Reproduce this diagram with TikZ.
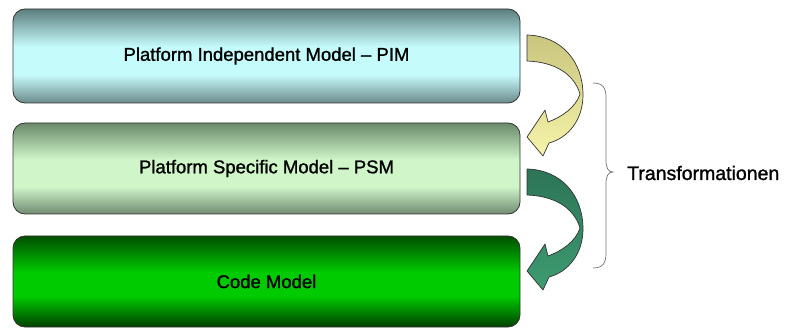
\documentclass[tikz,border=0pt]{standalone}
\usepackage{fontspec}
\setmainfont{Liberation Sans}
\newfontfamily\heavysans[FakeBold=1.2]{Liberation Sans}
\definecolor{bonedark}{HTML}{5C7E7E}
\definecolor{bonelight}{HTML}{C6FBFB}
\definecolor{bonebot}{HTML}{6B8A8A}
\definecolor{btwodark}{HTML}{6A896A}
\definecolor{btwolight}{HTML}{CFF5C9}
\definecolor{btwobot}{HTML}{718A71}
\definecolor{bthreedark}{HTML}{004F00}
\definecolor{bthreelight}{HTML}{00CA00}
\definecolor{bthreebot}{HTML}{003F00}
\definecolor{aonetop}{HTML}{C9C57E}
\definecolor{aonebot}{HTML}{F6F3AA}
\definecolor{atwotop}{HTML}{2C7456}
\definecolor{atwobot}{HTML}{3E9C72}
\definecolor{edgegray}{HTML}{333333}
\pgfdeclareverticalshading{pimshade}{100bp}{color(0bp)=(bonebot); color(25bp)=(bonebot); color(40bp)=(bonelight); color(55bp)=(bonelight); color(75bp)=(bonedark); color(100bp)=(bonedark)}
\pgfdeclareverticalshading{psmshade}{100bp}{color(0bp)=(btwobot); color(25bp)=(btwobot); color(40bp)=(btwolight); color(55bp)=(btwolight); color(75bp)=(btwodark); color(100bp)=(btwodark)}
\pgfdeclareverticalshading{codeshade}{100bp}{color(0bp)=(bthreebot); color(25bp)=(bthreebot); color(42bp)=(bthreelight); color(55bp)=(bthreelight); color(75bp)=(bthreedark); color(100bp)=(bthreedark)}
\begin{document}
\begin{tikzpicture}[x=1pt,y=-1pt,
  modelbox/.style={draw=edgegray, line width=0.8pt, rounded corners=12pt,
    minimum width=507pt, inner sep=0pt, outer sep=0pt,
    font=\heavysans\fontsize{18.5}{22}\selectfont, text=black},
  bendarrow/.style={draw=edgegray, line width=0.7pt, line join=round}]
\useasboundingbox (0,0) rectangle (791,328);
\fill[white] (0,0) rectangle (791,328);

\node[modelbox, minimum height=94pt, shading=pimshade] (pim) at (266.5,56) {Platform Independent Model – PIM};
\node[modelbox, minimum height=91pt, shading=psmshade] (psm) at (266.5,168.5) {Platform Specific Model – PSM};
\node[modelbox, minimum height=91pt, shading=codeshade] (code) at (266.5,281.5) {Code Model};

% curved arrow PIM -> PSM
\path[bendarrow, top color=aonetop, bottom color=aonebot]
  (527,35) .. controls (562,36) and (583,62) .. (583,95)
  .. controls (583,120) and (568,138) .. (549,143)
  -- (543,156) -- (527,137) -- (545,110) -- (548,122)
  .. controls (562,117) and (576,107) .. (580,94)
  .. controls (574,74) and (555,62) .. (527,61) -- cycle;

% curved arrow PSM -> Code
\begin{scope}[yshift=-134pt]
\path[bendarrow, top color=atwotop, bottom color=atwobot]
  (527,35) .. controls (562,36) and (583,62) .. (583,95)
  .. controls (583,120) and (568,138) .. (549,143)
  -- (543,156) -- (527,137) -- (545,110) -- (548,122)
  .. controls (562,117) and (576,107) .. (580,94)
  .. controls (574,74) and (555,62) .. (527,61) -- cycle;
\end{scope}

% brace
\coordinate (btip) at (613,172);
\draw[draw=black!55, line width=0.7pt]
  (593,83) .. controls (603,83) and (606,88) .. (606,98) -- (606,160)
  .. controls (606,168) and (608,172) .. (btip)
  .. controls (608,172) and (606,176) .. (606,184) -- (606,253)
  .. controls (606,263) and (603,268) .. (593,268);

\node[anchor=west, inner sep=0pt, font=\heavysans\fontsize{19.5}{23}\selectfont] (trans) at (627,173) {Transformationen};
\end{tikzpicture}
\end{document}
